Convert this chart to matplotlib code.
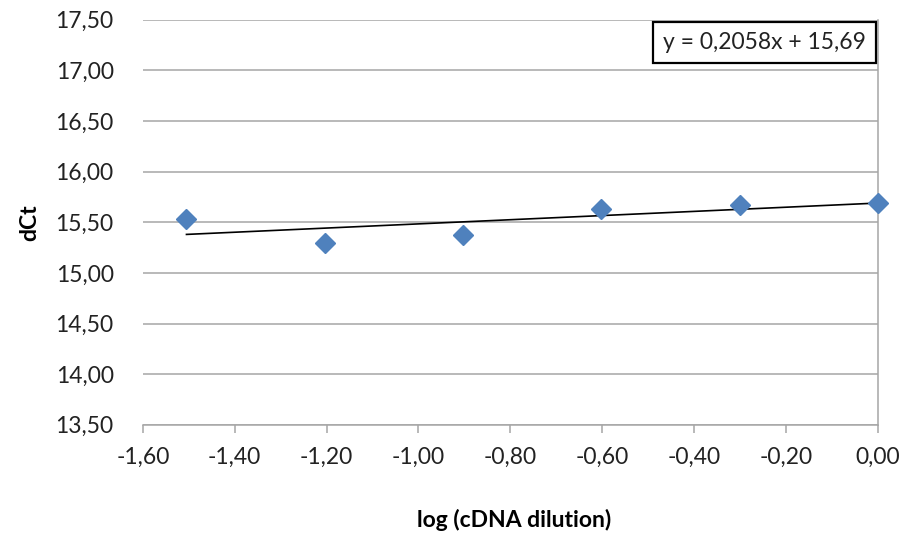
import matplotlib.pyplot as plt
import numpy as np
from matplotlib.ticker import FuncFormatter

# log of the cDNA dilution series (1/32 ... 1) and measured dCt
log_dil = [-1.505, -1.204, -0.903, -0.602, -0.301, 0.0]
dct = [15.53, 15.30, 15.37, 15.63, 15.67, 15.69]

# linear trendline as reported
slope = 0.2058
intercept = 15.69

plt.rcParams['font.family'] = ['Lato', 'DejaVu Sans']

fig = plt.figure(figsize=(9.04, 5.35), dpi=100)
ax = fig.add_axes([0.158, 0.206, 0.813, 0.757])

grid_c = '#a6a6a6'
ax.set_xlim(-1.6, 0.0)
ax.set_ylim(13.5, 17.5)
ax.set_xticks(np.arange(-1.6, 0.01, 0.2))
ax.set_yticks(np.arange(13.5, 17.51, 0.5))
ax.yaxis.grid(True, color=grid_c, lw=1.1)
ax.set_axisbelow(True)


def comma(v, p):
    if abs(v) < 1e-9:
        v = 0.0
    return ('%.2f' % v).replace('.', ',')


fmt = FuncFormatter(comma)
ax.xaxis.set_major_formatter(fmt)
ax.yaxis.set_major_formatter(fmt)

for s in ['top', 'left']:
    ax.spines[s].set_visible(False)
ax.spines['bottom'].set_color(grid_c)
ax.spines['right'].set_color(grid_c)
ax.spines['bottom'].set_linewidth(1.1)
ax.spines['right'].set_linewidth(1.1)

fs = 16.5
ax.tick_params(axis='x', colors=grid_c, length=6, width=1.1, labelcolor='#222222',
               labelsize=fs, pad=10)
ax.tick_params(axis='y', length=0, labelcolor='#222222', labelsize=fs, pad=21)
ax.tick_params(axis='y', which='both', right=False)

xs = np.array([log_dil[0], log_dil[-1]])
ax.plot(xs, slope * xs + intercept, color='black', lw=1.2, zorder=2)
ax.plot(log_dil, dct, linestyle='none', marker='D', ms=10, color='#4f81bd', zorder=3,
        clip_on=False)

ax.set_xlabel('log (cDNA dilution)', fontsize=fs, fontweight='bold', va='center')
ax.set_ylabel('dCt', fontsize=fs, fontweight='bold', va='center')
ax.xaxis.set_label_coords(0.505, -0.235)
ax.yaxis.set_label_coords(-0.154, 0.5)

ax.text(0.984, 0.97, 'y = 0,2058x + 15,69', transform=ax.transAxes, ha='right', va='top',
        fontsize=16.5, color='#222222',
        bbox=dict(boxstyle='square,pad=0.45', fc='white', ec='black', lw=1.6))

fig.savefig('out.png', dpi=100)
